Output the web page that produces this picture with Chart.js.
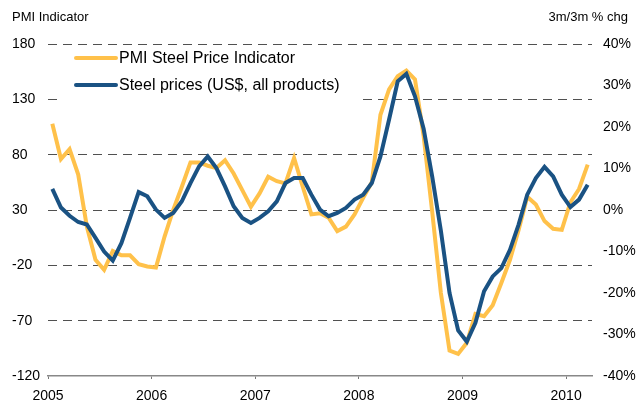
<!DOCTYPE html>
<html>
<head>
<meta charset="utf-8">
<script src="https://cdn.jsdelivr.net/npm/chart.js@4/dist/chart.umd.min.js"></script>
<style>
  html, body { margin: 0; padding: 0; background: #fff; }
  #wrap { width: 638px; height: 403px; position: relative; }
</style>
</head>
<body>
<div id="wrap"><canvas id="chart" width="638" height="403"></canvas></div>
<script>
// monthly series, Jan 2005 .. Mar 2010
var startYear = 2005;
var yearTicks = [2005, 2006, 2007, 2008, 2009, 2010];

// PMI steel price indicator (left axis)
var pmiSteel = [108, 76, 85, 62, 15, -15, -24, -7, -11, -11, -19, -21,
  -22, 6, 30, 51, 73, 73, 70, 68, 75, 63, 48, 33,
  45, 60, 56, 54, 77, 51, 26, 27, 23, 11, 15, 26,
  41, 55, 116, 139, 151, 156, 148, 97, 28, -45, -97, -100,
  -90, -64, -66, -56, -36, -15, 12, 42, 35, 20, 13, 12,
  37, 49, 71];

// steel prices, 3m/3m % chg (right axis)
var steelPrices = [5.1, 0.6, -1.4, -2.9, -3.5, -6.7, -10, -12.2, -8, -1.9, 4.3, 3.3,
  0.1, -1.9, -0.7, 2.1, 6.5, 10.5, 12.9, 10.1, 5.7, 0.9, -1.9, -3.1,
  -1.9, -0.3, 2.1, 6.5, 7.7, 7.7, 3.7, 0.1, -1.5, -0.7, 0.5, 2.5,
  3.7, 6.5, 12.9, 21.8, 31, 32.8, 27.4, 19.6, 8, -5, -20, -29,
  -31.7, -27.2, -19.6, -16, -14, -9.6, -3.5, 3.7, 7.7, 10.4, 8.1, 3.7,
  0.7, 2.5, 6.1];

var leftTitle = 'PMI Indicator';
var rightTitle = '3m/3m % chg';

var ORANGE = '#FFC14A';
var BLUE = '#1A5283';

// month midpoints as fractional years
function toPoints(vals) {
  return vals.map(function(v, i) {
    return { x: startYear + (i + 0.5) / 12, y: v };
  });
}

var tickFont = { family: 'Liberation Sans, Arial, sans-serif', size: 14 };

var extrasPlugin = {
  id: 'extras',
  beforeDatasetsDraw: function(chart) {
    var ctx = chart.ctx;
    ctx.save();
    // legend box
    ctx.fillStyle = '#fff';
    ctx.fillRect(57, 47, 300, 57);
    var items = [
      { label: chart.data.datasets[0].label, color: ORANGE, y: 58 },
      { label: chart.data.datasets[1].label, color: BLUE, y: 85 }
    ];
    items.forEach(function(it) {
      ctx.strokeStyle = it.color;
      ctx.lineWidth = 4;
      ctx.lineCap = 'round';
      ctx.beginPath();
      ctx.moveTo(76, it.y);
      ctx.lineTo(116, it.y);
      ctx.stroke();
      ctx.fillStyle = '#000';
      ctx.font = '16px "Liberation Sans", Arial, sans-serif';
      ctx.textBaseline = 'middle';
      ctx.textAlign = 'left';
      ctx.fillText(it.label, 119, it.y + 1);
    });
    ctx.restore();
  },
  afterDraw: function(chart) {
    var ctx = chart.ctx;
    ctx.save();
    ctx.fillStyle = '#000';
    ctx.font = '13px "Liberation Sans Narrow", "Arial Narrow", sans-serif';
    ctx.textBaseline = 'middle';
    ctx.textAlign = 'left';
    ctx.fillText(leftTitle, 12, 17);
    ctx.textAlign = 'right';
    ctx.fillText(rightTitle, 628, 17);
    ctx.restore();
  }
};

var ctx = document.getElementById('chart').getContext('2d');
var chart = new Chart(ctx, {
  type: 'line',
  data: {
    datasets: [{
      label: 'PMI Steel Price Indicator',
      data: toPoints(pmiSteel),
      yAxisID: 'y',
      borderColor: ORANGE,
      borderWidth: 4,
      pointRadius: 0,
      tension: 0,
      order: 1
    }, {
      label: 'Steel prices (US$, all products)',
      data: toPoints(steelPrices),
      yAxisID: 'y1',
      borderColor: BLUE,
      borderWidth: 4,
      pointRadius: 0,
      tension: 0,
      order: 0
    }]
  },
  options: {
    responsive: false,
    animation: false,
    layout: { padding: { left: 12, right: 0, top: 44, bottom: 0 } },
    plugins: {
      legend: { display: false },
      tooltip: { enabled: false }
    },
    scales: {
      x: {
        type: 'linear',
        min: 2005,
        max: 2010.25,
        afterBuildTicks: function(scale) {
          scale.ticks = yearTicks.map(function(v) { return { value: v }; });
        },
        afterFit: function(scale) { scale.height = 27; },
        grid: { drawOnChartArea: false, drawTicks: true, tickLength: 3, color: '#777', lineWidth: 1 },
        border: { display: true, color: '#888', width: 1.5 },
        ticks: {
          font: tickFont, color: '#000', padding: 9, maxRotation: 0,
          callback: function(v) { return String(v); }
        }
      },
      y: {
        position: 'left',
        min: -120,
        max: 180,
        afterBuildTicks: function(scale) {
          var t = [];
          for (var v = -120; v <= 180; v += 50) t.push({ value: v });
          scale.ticks = t;
        },
        afterFit: function(scale) { scale.width = 36; },
        border: { display: false, dash: [9, 6] },
        grid: {
          drawTicks: false,
          color: function(c) { return c.tick && c.tick.value === -120 ? 'rgba(0,0,0,0)' : '#505050'; },
          lineWidth: 1
        },
        ticks: { font: tickFont, color: '#000', crossAlign: 'far', padding: 0 }
      },
      y1: {
        position: 'right',
        min: -40,
        max: 40,
        afterBuildTicks: function(scale) {
          var t = [];
          for (var v = -40; v <= 40; v += 10) t.push({ value: v });
          scale.ticks = t;
        },
        afterFit: function(scale) { scale.width = 46; },
        border: { display: false },
        grid: { display: false, drawTicks: false },
        ticks: {
          font: tickFont, color: '#000', padding: 11,
          callback: function(v) { return v + '%'; }
        }
      }
    }
  },
  plugins: [extrasPlugin]
});
</script>
</body>
</html>
